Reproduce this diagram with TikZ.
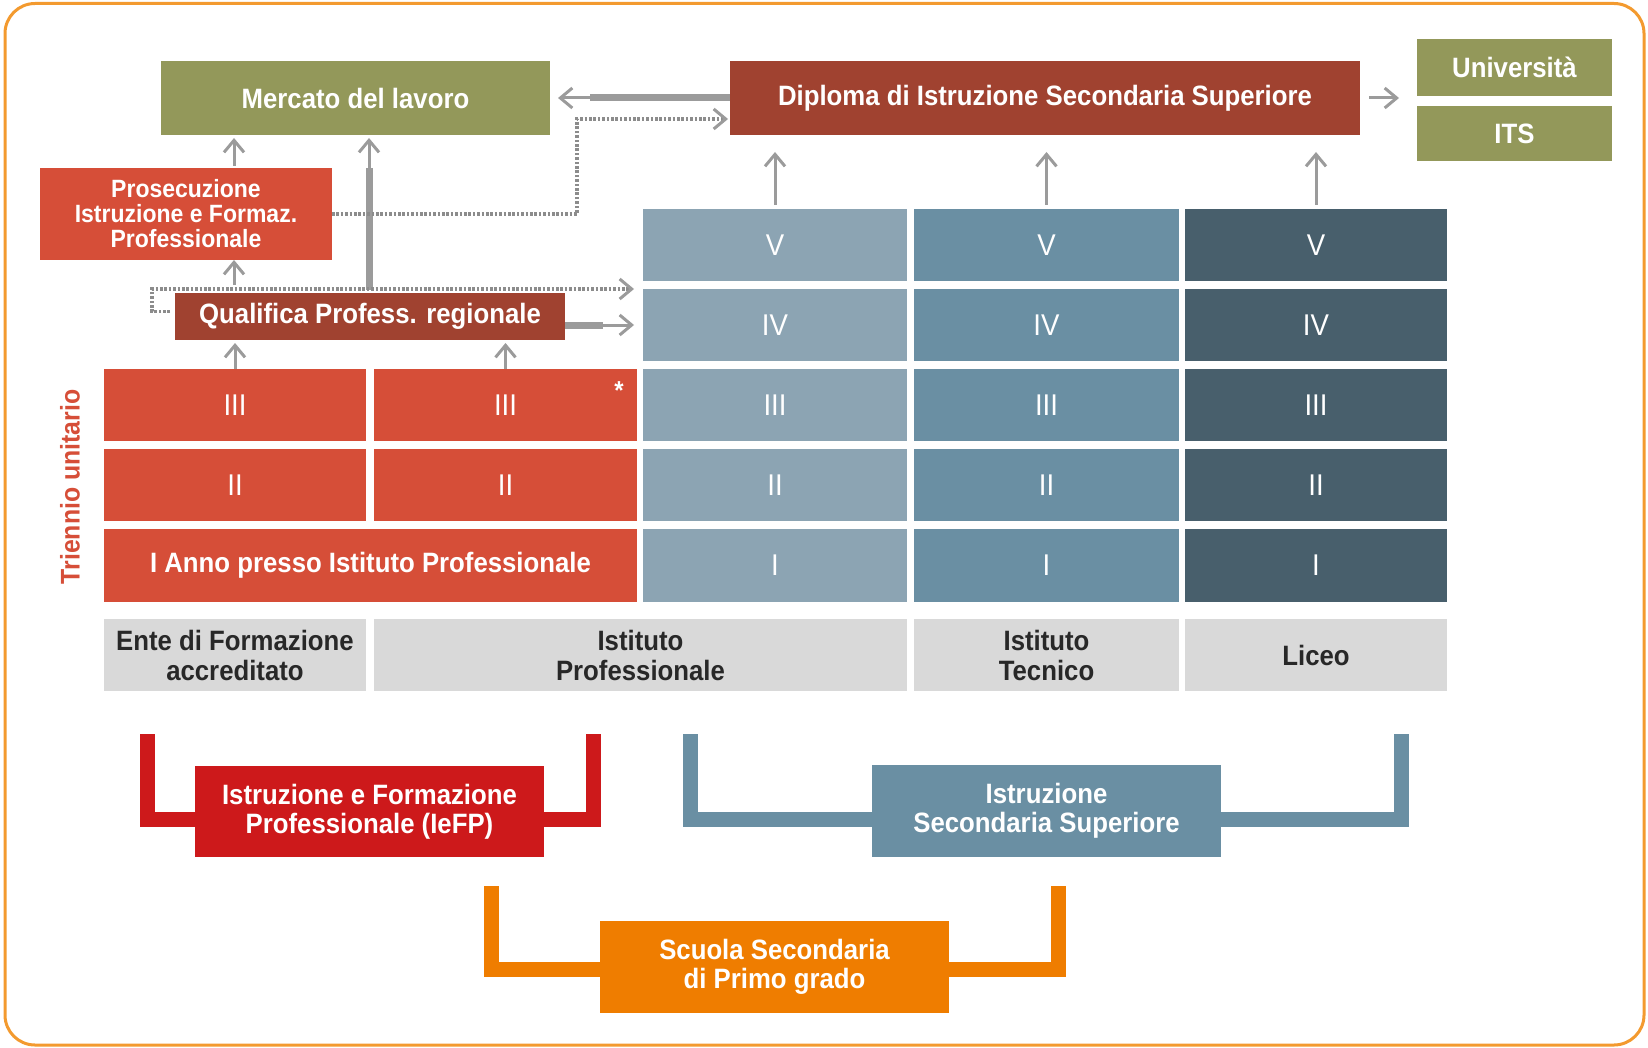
\documentclass[tikz,border=0pt]{standalone}
\usepackage{fontspec}
\setmainfont{Liberation Sans}[FakeStretch=0.92]
\usetikzlibrary{arrows.meta,calc}
\definecolor{mygreen}{RGB}{147,152,90}
\definecolor{brick}{RGB}{160,66,48}
\definecolor{tomato}{RGB}{214,78,56}
\definecolor{blueA}{RGB}{140,164,179}
\definecolor{blueB}{RGB}{106,143,163}
\definecolor{blueC}{RGB}{72,95,108}
\definecolor{lgray}{RGB}{217,217,217}
\definecolor{dtext}{RGB}{40,40,40}
\definecolor{iefpred}{RGB}{205,25,27}
\definecolor{orng}{RGB}{239,125,0}
\definecolor{bordo}{RGB}{243,154,47}
\definecolor{agray}{RGB}{155,155,155}
\definecolor{dgray}{RGB}{140,140,140}
\newcommand\cellbox[7]{\node[#1, minimum width={(#5-#3)*0.5pt}, minimum height={(#6-#4)*0.5pt}] (#2) at ({(#3+#5)/2},{(#4+#6)/2}) {#7};}
\tikzset{
  box/.style={inner sep=0pt, outer sep=0pt, align=center, text=white, font=\bfseries\fontsize{14}{14.5}\selectfont},
  num/.style={box, font=\normalfont\fontsize{15}{15}\selectfont},
  glabel/.style={box, fill=lgray, text=dtext, font=\bfseries\fontsize{14}{15}\selectfont},
  garrow/.style={draw=agray, line width=1.5pt, -{Straight Barb[length=6pt,width=10pt,line width=1.5pt]}},
  gthick/.style={draw=agray, line width=3.5pt},
  gdot/.style={draw=dgray, line width=1.8pt, dash pattern=on 1.3pt off 0.9pt, -{Straight Barb[length=6pt,width=10pt,line width=1.5pt,color=agray]}},
  bracket/.style={line width=7.5pt, line cap=butt, line join=miter},
}
\begin{document}
\begin{tikzpicture}[x=0.5pt, y=-0.5pt]
\useasboundingbox (0,0) rectangle (1648,1048);
\draw[bordo, line width=1.5pt, rounded corners=15pt] (5,3.5) rectangle (1644,1045);

% top boxes
\cellbox{box,fill=mygreen}{merc}{161}{61}{550}{135}{Mercato del lavoro}
\cellbox{box,fill=brick}{dipl}{730}{61}{1360}{135}{Diploma di Istruzione Secondaria Superiore}
\cellbox{box,fill=mygreen}{univ}{1417}{39}{1612}{96}{Università}
\cellbox{box,fill=mygreen}{its}{1417}{106}{1612}{161}{ITS}
\cellbox{box,fill=tomato,font=\bfseries\fontsize{12.5}{12.5}\selectfont}{pros}{40}{168}{332}{260}{Prosecuzione\\Istruzione e Formaz.\\Professionale}
\cellbox{box,fill=brick}{qual}{175}{293}{565}{340}{Qualifica Profess. regionale}

% red grid
\cellbox{num,fill=tomato}{r3a}{104}{369}{366}{441}{III}
\cellbox{num,fill=tomato}{r3b}{374}{369}{637}{441}{III}
\cellbox{num,fill=tomato}{r2a}{104}{449}{366}{521}{II}
\cellbox{num,fill=tomato}{r2b}{374}{449}{637}{521}{II}
\cellbox{box,fill=tomato}{r1}{104}{529}{637}{602}{I Anno presso Istituto Professionale}
\node[text=white, font=\bfseries\fontsize{13}{13}\selectfont, inner sep=0pt] (ast) at (619,391) {*};

% blue grid
\cellbox{num,fill=blueA}{b5a}{643}{209}{907}{281}{V}
\cellbox{num,fill=blueB}{b5b}{914}{209}{1179}{281}{V}
\cellbox{num,fill=blueC}{b5c}{1185}{209}{1447}{281}{V}
\cellbox{num,fill=blueA}{b4a}{643}{289}{907}{361}{IV}
\cellbox{num,fill=blueB}{b4b}{914}{289}{1179}{361}{IV}
\cellbox{num,fill=blueC}{b4c}{1185}{289}{1447}{361}{IV}
\cellbox{num,fill=blueA}{b3a}{643}{369}{907}{441}{III}
\cellbox{num,fill=blueB}{b3b}{914}{369}{1179}{441}{III}
\cellbox{num,fill=blueC}{b3c}{1185}{369}{1447}{441}{III}
\cellbox{num,fill=blueA}{b2a}{643}{449}{907}{521}{II}
\cellbox{num,fill=blueB}{b2b}{914}{449}{1179}{521}{II}
\cellbox{num,fill=blueC}{b2c}{1185}{449}{1447}{521}{II}
\cellbox{num,fill=blueA}{b1a}{643}{529}{907}{602}{I}
\cellbox{num,fill=blueB}{b1b}{914}{529}{1179}{602}{I}
\cellbox{num,fill=blueC}{b1c}{1185}{529}{1447}{602}{I}

% gray labels
\cellbox{glabel}{g1}{104}{619}{366}{691}{Ente di Formazione\\accreditato}
\cellbox{glabel}{g2}{374}{619}{907}{691}{Istituto\\Professionale}
\cellbox{glabel}{g3}{914}{619}{1179}{691}{Istituto\\Tecnico}
\cellbox{glabel}{g4}{1185}{619}{1447}{691}{Liceo}

\node[rotate=90, text=tomato, font=\bfseries\fontsize{13.5}{13.5}\selectfont, inner sep=0pt] (tri) at (70,487) {Triennio unitario};

% brackets
\draw[bracket, iefpred] (147,734) -- (147,819) -- (593,819) -- (593,734);
\draw[bracket, blueB] (690.5,734) -- (690.5,819) -- (1401.5,819) -- (1401.5,734);
\draw[bracket, orng] (491.5,886) -- (491.5,969) -- (1058.5,969) -- (1058.5,886);
\cellbox{box,fill=iefpred}{iefp}{195}{766}{544}{857}{Istruzione e Formazione\\Professionale (IeFP)}
\cellbox{box,fill=blueB}{iss}{872}{765}{1221}{857}{Istruzione\\Secondaria Superiore}
\cellbox{box,fill=orng}{ssp}{600}{921}{949}{1013}{Scuola Secondaria\\di Primo grado}

% helper coordinates
\coordinate (cA) at (234,0);
\coordinate (cB) at (369,0);
\coordinate (t1) at (590,98);
\coordinate (t2) at (603,325);
\coordinate (d1) at (577,119);
\coordinate (d2s) at (170,311.5);
\coordinate (d2) at (152,289);

% arrows
\draw[garrow, shorten <=1pt, shorten >=1.5pt] (pros.north -| cA) -- (merc.south -| cA);
\draw[garrow, shorten <=4pt] (qual.north -| cA) -- (pros.south -| cA);
\draw[garrow, shorten >=1.5pt] (r3a.north) -- (qual.south -| r3a);
\draw[garrow, shorten >=1.5pt] (r3b.north) -- (qual.south -| r3b);
\draw[gthick, shorten <=1.5pt] (qual.north -| cB) -- (pros.north -| cB);
\draw[garrow, shorten <=1.5pt, shorten >=1.5pt] (qual.north -| cB) -- (merc.south -| cB);
\draw[gthick] (dipl.west) -- (t1);
\draw[garrow, shorten <=1pt, shorten >=4pt] (dipl.west) -- (merc.east);
\draw[gthick] (qual.east |- b4a) -- (t2);
\draw[garrow, shorten >=4.5pt] (qual.east |- b4a) -- (b4a.west);
\draw[gdot, shorten >=1pt] (pros.east) -| (d1) -- (d1 -| dipl.west);
\draw[gdot, shorten >=4.5pt] (d2s) -| (d2) -- (d2 -| b4a.west);
\draw[garrow, shorten <=4.5pt, shorten >=9pt] (dipl.east) -- (dipl.east -| univ.west);
\foreach \c in {b5a,b5b,b5c} \draw[garrow, shorten <=2pt, shorten >=8.5pt] (\c.north) -- (dipl.south -| \c);
\end{tikzpicture}
\end{document}
